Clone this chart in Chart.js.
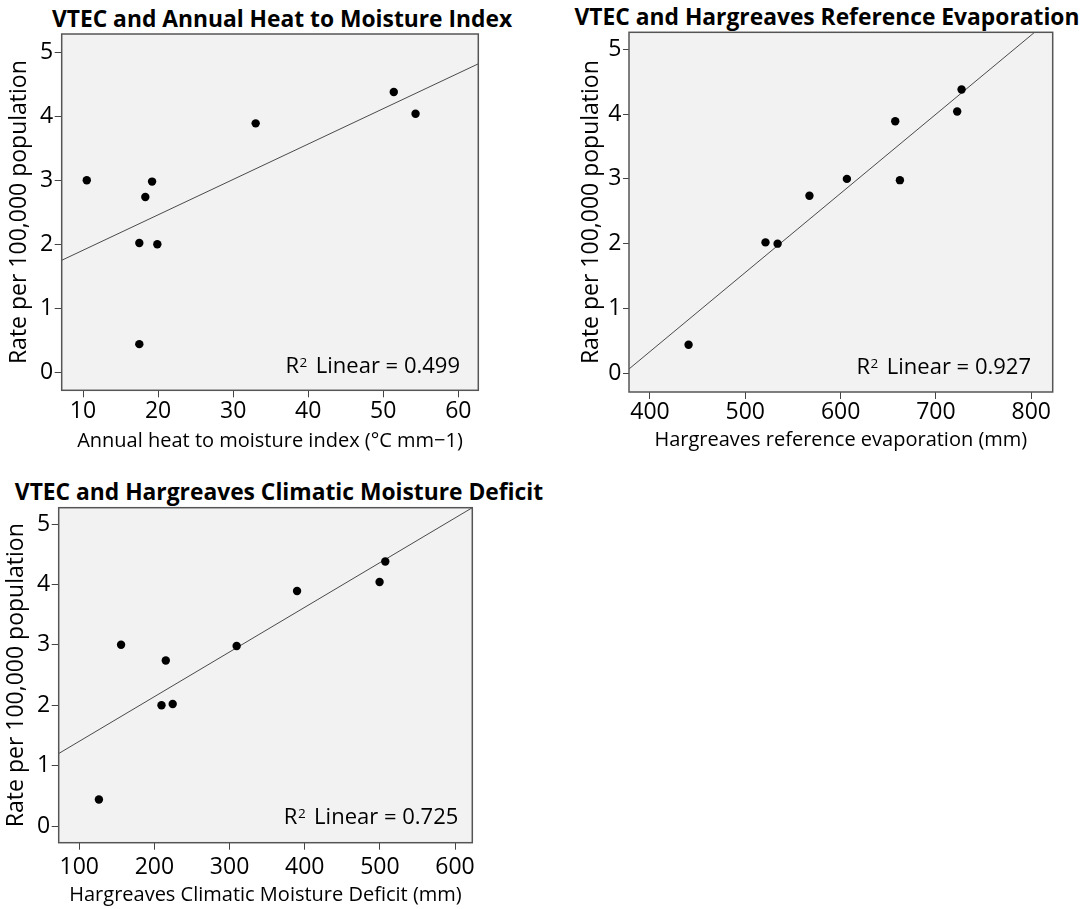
<!DOCTYPE html>
<html>
<head>
<meta charset="utf-8">
<title>VTEC</title>
<script src="https://cdn.jsdelivr.net/npm/chart.js@4.4.0/dist/chart.umd.min.js"></script>
<style>
    body {
        margin: 0;
        width: 1086px;
        height: 909px;
        position: relative;
        overflow: hidden;
        background: #fff;
    }
    .titulo {
        position: absolute;
        width: 600px;
        font: bold 22.8px 'Open Sans', sans-serif;
        line-height: 1;
        text-align: center;
        white-space: nowrap;
        color: #000;
    }
    canvas {
        position: absolute;
    }
</style>
</head>
<body>
<div class="titulo" style="left:-18px; top:8px;">VTEC and Annual Heat to Moisture Index</div>
<div class="titulo" style="left:527px; top:6px;">VTEC and Hargreaves Reference Evaporation</div>
<div class="titulo" style="left:-21px; top:481px;">VTEC and Hargreaves Climatic Moisture Deficit</div>

<canvas id="grafico1" width="490" height="455" style="left:0; top:0;"></canvas>
<canvas id="grafico2" width="526" height="455" style="left:560px; top:0;"></canvas>
<canvas id="grafico3" width="490" height="449" style="left:0; top:460px;"></canvas>

<script>
// Tasa de VTEC por 100.000 habitantes (una por región, mismo orden en todas las listas)
const tasas = [3.0, 2.98, 2.74, 2.02, 2.0, 0.44, 3.89, 4.38, 4.04];

// Variables climáticas de cada región
const indiceCalorHumedad = [10.5, 19.2, 18.3, 17.5, 19.9, 17.5, 33.0, 51.4, 54.3];
const evaporacionRef = [606.6, 662.2, 567.3, 521.2, 533.9, 440.5, 657.3, 726.9, 722.3];
const deficitHumedad = [155.6, 309.4, 215.1, 224.3, 209.4, 126.1, 389.8, 507.2, 499.6];

// Extremos de cada recta de regresión (x, y)
const rectaIndiceX = [7.16, 62.66];
const rectaIndiceY = [1.75, 4.82];
const rectaEvapX = [378, 803.5];
const rectaEvapY = [0.066, 5.262];
const rectaDeficitX = [72.6, 623];
const rectaDeficitY = [1.2, 5.27];

// Valores de R cuadrado
const r2Valores = [0.499, 0.927, 0.725];

// Marcas de los ejes
const ticksY = [0, 1, 2, 3, 4, 5];
const ticksIndice = [10, 20, 30, 40, 50, 60];
const ticksEvap = [400, 500, 600, 700, 800];
const ticksDeficit = [100, 200, 300, 400, 500, 600];

const fuente = "'Open Sans', sans-serif";

// Plugin: fondo gris del área, marco y etiqueta del R cuadrado
const marcoGrafico = {
    id: 'marcoGrafico',
    beforeDatasetsDraw(chart) {
        const { ctx, chartArea: a } = chart;
        ctx.save();
        ctx.fillStyle = '#f2f2f2';
        ctx.fillRect(a.left, a.top, a.right - a.left, a.bottom - a.top);
        ctx.restore();
    },
    afterDatasetsDraw(chart, args, opts) {
        const { ctx, chartArea: a } = chart;
        ctx.save();
        // Marco del área de datos
        ctx.strokeStyle = '#555';
        ctx.lineWidth = 1.5;
        ctx.strokeRect(a.left, a.top, a.right - a.left, a.bottom - a.top);

        // Texto "R² Linear = ..."
        const derecha = a.right - opts.derecha;
        const base = a.bottom - opts.abajo;
        const texto = 'Linear = ' + opts.r2.toFixed(3);
        ctx.fillStyle = '#000';
        ctx.textBaseline = 'alphabetic';
        ctx.textAlign = 'right';
        ctx.font = '22px ' + fuente;
        ctx.fillText(texto, derecha, base);
        const anchoTexto = ctx.measureText(texto).width;
        ctx.font = '13.5px ' + fuente;
        const finSup = derecha - anchoTexto - 8.5;
        ctx.fillText('2', finSup, base - 6.5);
        const anchoSup = ctx.measureText('2').width;
        ctx.font = '22px ' + fuente;
        ctx.fillText('R', finSup - anchoSup - 0.5, base);
        ctx.restore();
    }
};

// Función para crear cada diagrama de dispersión con su recta
function crearGrafico(id, cfg) {
    const ctx = document.getElementById(id).getContext('2d');

    const puntos = cfg.xs.map((x, i) => ({ x: x, y: tasas[i] }));
    const recta = cfg.rectaX.map((x, i) => ({ x: x, y: cfg.rectaY[i] }));

    new Chart(ctx, {
        type: 'scatter',
        data: {
            datasets: [{
                data: puntos,
                backgroundColor: '#000',
                borderWidth: 0,
                pointRadius: 4.2,
                order: 1
            }, {
                data: recta,
                showLine: true,
                borderColor: '#4a4a4a',
                borderWidth: 1,
                pointRadius: 0,
                fill: false,
                order: 2
            }]
        },
        options: {
            responsive: false,
            animation: false,
            devicePixelRatio: 1,
            events: [],
            layout: {
                padding: { top: cfg.arriba, right: cfg.derecha, left: 0, bottom: 0 }
            },
            scales: {
                x: {
                    type: 'linear',
                    min: cfg.xMin,
                    max: cfg.xMax,
                    afterBuildTicks: s => { s.ticks = cfg.ticksX.map(v => ({ value: v })); },
                    afterFit: s => { s.height = cfg.altoX; },
                    ticks: {
                        color: '#000',
                        font: { family: fuente, size: 23 },
                        padding: cfg.padTicksX,
                        maxRotation: 0,
                        autoSkip: false,
                        callback: v => String(v)
                    },
                    grid: { drawOnChartArea: false, drawTicks: true, tickLength: 7, color: '#444' },
                    border: { display: false },
                    title: {
                        display: true,
                        text: cfg.tituloX,
                        color: '#000',
                        font: { family: fuente, size: 20 },
                        padding: { top: 0, bottom: cfg.padTituloX }
                    }
                },
                y: {
                    type: 'linear',
                    min: cfg.yMin,
                    max: cfg.yMax,
                    afterBuildTicks: s => { s.ticks = ticksY.map(v => ({ value: v })); },
                    afterFit: s => { s.width = cfg.anchoY; },
                    ticks: {
                        color: '#000',
                        font: { family: fuente, size: 23 },
                        padding: 1.5,
                        autoSkip: false,
                        callback: v => String(v)
                    },
                    grid: { drawOnChartArea: false, drawTicks: true, tickLength: cfg.largoTickY, color: '#444' },
                    border: { display: false },
                    title: {
                        display: true,
                        text: 'Rate per 100,000 population',
                        color: '#000',
                        font: { family: fuente, size: 23 },
                        padding: { top: cfg.padTituloY, bottom: 0 }
                    }
                }
            },
            plugins: {
                legend: { display: false },
                tooltip: { enabled: false },
                marcoGrafico: { r2: cfg.r2, derecha: cfg.r2Derecha, abajo: cfg.r2Abajo }
            }
        },
        plugins: [marcoGrafico]
    });
}

// Índice anual de calor y humedad
crearGrafico('grafico1', {
    xs: indiceCalorHumedad, rectaX: rectaIndiceX, rectaY: rectaIndiceY,
    xMin: 7.16, xMax: 62.66, yMin: -0.281, yMax: 5.286,
    ticksX: ticksIndice, tituloX: 'Annual heat to moisture index (°C mm\u22121)',
    arriba: 34, derecha: 11.7, anchoY: 61.7, altoX: 64.7,
    padTicksX: 0, padTituloX: 1.5, padTituloY: 5.6, largoTickY: 7,
    r2: r2Valores[0], r2Derecha: 18.3, r2Abajo: 17
});

// Evaporación de referencia de Hargreaves
crearGrafico('grafico2', {
    xs: evaporacionRef, rectaX: rectaEvapX, rectaY: rectaEvapY,
    xMin: 378, xMax: 822.5, yMin: -0.289, yMax: 5.262,
    ticksX: ticksEvap, tituloX: 'Hargreaves reference evaporation (mm)',
    arriba: 32.3, derecha: 33.3, anchoY: 69, altoX: 63,
    padTicksX: 0, padTituloX: 2.5, padTituloY: 17.3, largoTickY: 6,
    r2: r2Valores[1], r2Derecha: 21.7, r2Abajo: 18
});

// Déficit climático de humedad de Hargreaves
crearGrafico('grafico3', {
    xs: deficitHumedad, rectaX: rectaDeficitX, rectaY: rectaDeficitY,
    xMin: 72.6, xMax: 623, yMin: -0.276, yMax: 5.27,
    ticksX: ticksDeficit, tituloX: 'Hargreaves Climatic Moisture Deficit (mm)',
    arriba: 47.7, derecha: 17.7, anchoY: 58.7, altoX: 66.3,
    padTicksX: 4, padTituloX: 2.1, padTituloY: 2.3, largoTickY: 7,
    r2: r2Valores[2], r2Derecha: 14, r2Abajo: 18.4
});
</script>
</body>
</html>
